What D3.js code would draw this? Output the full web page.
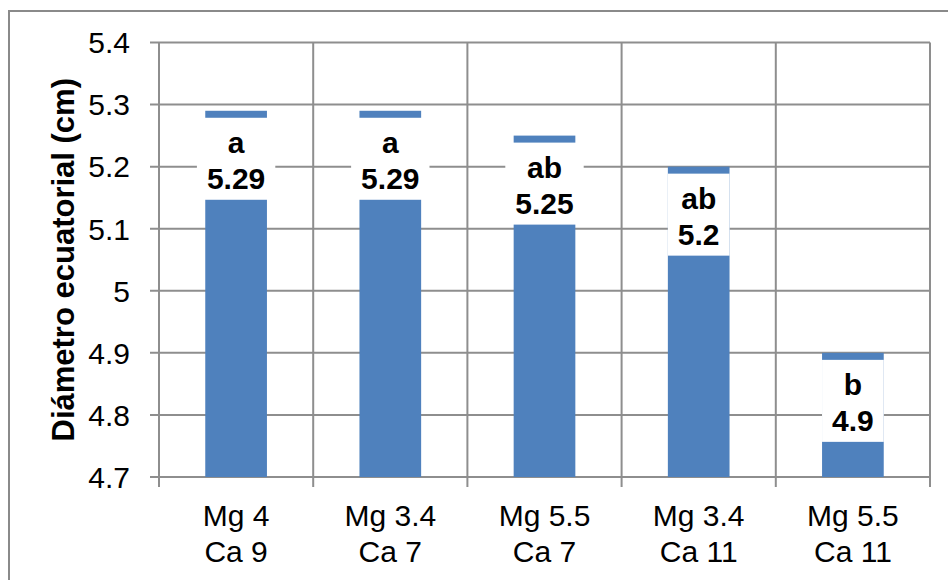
<!DOCTYPE html>
<html>
<head>
<meta charset="utf-8">
<script src="https://cdn.jsdelivr.net/npm/d3@7"></script>
<style>
    body { margin: 0; background: #fff; }
    svg { display: block; font-family: "Liberation Sans", Arial, sans-serif; }
</style>
</head>
<body>
<svg id="chart"></svg>
<script>
// Chart data
const categories = [["Mg 4", "Ca 9"], ["Mg 3.4", "Ca 7"], ["Mg 5.5", "Ca 7"], ["Mg 3.4", "Ca 11"], ["Mg 5.5", "Ca 11"]];
const diameters = [5.29, 5.29, 5.25, 5.2, 4.9];
const groupLetters = ["a", "a", "ab", "ab", "b"];
const yTicks = [4.7, 4.8, 4.9, 5, 5.1, 5.2, 5.3, 5.4];

class BarChart {
    constructor(config_) {
        this.config = config_;
        this.initVis();
    }

    initVis() {
        const vis = this;
        const c = vis.config;

        vis.svg = d3.select('#' + c.svgElementId)
            .attr('width', c.width)
            .attr('height', c.height);

        // outer frame (runs off the right and bottom edge like the source)
        vis.svg.append('rect')
            .attr('x', 9).attr('y', 11)
            .attr('width', c.width + 20).attr('height', c.height + 20)
            .attr('fill', 'none')
            .attr('stroke', '#8a8a8a')
            .attr('stroke-width', 2);

        vis.xScale = d3.scaleBand()
            .domain(d3.range(categories.length))
            .range([c.plot.left, c.plot.right])
            .padding(0);

        vis.yScale = d3.scaleLinear()
            .domain([4.7, 5.4])
            .range([c.plot.bottom, c.plot.top]);

        vis.chart = vis.svg.append('g');
        this.renderVis();
    }

    renderVis() {
        const vis = this;
        const c = vis.config;
        const grid = '#8e8e8e';

        // horizontal gridlines + tick marks
        vis.chart.selectAll('.hgrid')
            .data(yTicks)
            .join('line')
            .attr('class', 'hgrid')
            .attr('x1', c.plot.left - 9).attr('x2', c.plot.right)
            .attr('y1', d => vis.yScale(d)).attr('y2', d => vis.yScale(d))
            .attr('stroke', grid).attr('stroke-width', 2);

        // vertical category separators + tick marks
        const edges = d3.range(categories.length + 1).map(i =>
            i < categories.length ? vis.xScale(i) : c.plot.right);
        vis.chart.selectAll('.vgrid')
            .data(edges)
            .join('line')
            .attr('class', 'vgrid')
            .attr('x1', d => d).attr('x2', d => d)
            .attr('y1', c.plot.top).attr('y2', c.plot.bottom + 10)
            .attr('stroke', grid).attr('stroke-width', 2);

        // y tick labels
        vis.chart.selectAll('.ylab')
            .data(yTicks)
            .join('text')
            .attr('class', 'ylab')
            .attr('x', c.plot.left - 29)
            .attr('y', d => vis.yScale(d))
            .attr('dy', '0.36em')
            .attr('text-anchor', 'end')
            .attr('font-size', 30)
            .attr('fill', '#000')
            .text(d => d3.format('~g')(d));

        // y axis title
        vis.svg.append('text')
            .attr('transform', `translate(74, ${(c.plot.top + c.plot.bottom) / 2}) rotate(-90)`)
            .attr('text-anchor', 'middle')
            .attr('font-size', 31)
            .attr('font-weight', 'bold')
            .text('Diámetro ecuatorial (cm)');

        // x category labels (two lines)
        const xl = vis.chart.selectAll('.xlab')
            .data(categories)
            .join('text')
            .attr('class', 'xlab')
            .attr('text-anchor', 'middle')
            .attr('font-size', 30);
        xl.selectAll('tspan')
            .data((d, i) => d.map(t => ({ t, i })))
            .join('tspan')
            .attr('x', d => vis.xScale(d.i) + vis.xScale.bandwidth() / 2)
            .attr('y', (d, j) => 526 + j * 36)
            .text(d => d.t);

        // bars
        const barW = vis.xScale.bandwidth() * 0.4;
        const cx = i => vis.xScale(i) + vis.xScale.bandwidth() / 2;
        vis.chart.selectAll('.bar')
            .data(diameters)
            .join('rect')
            .attr('class', 'bar')
            .attr('x', (d, i) => cx(i) - barW / 2)
            .attr('width', barW)
            .attr('y', d => vis.yScale(d))
            .attr('height', d => c.plot.bottom - vis.yScale(d))
            .attr('fill', '#4f81bd');

        // data labels: white box with letter + value
        const labels = vis.chart.selectAll('.dlabel')
            .data(diameters)
            .join('g')
            .attr('class', 'dlabel')
            .attr('transform', (d, i) => `translate(${cx(i)}, ${vis.yScale(d)})`);

        const box = labels.append('rect')
            .attr('y', 7)
            .attr('height', 82)
            .attr('fill', '#fff');

        const txt = labels.append('text')
            .attr('text-anchor', 'middle')
            .attr('font-size', 30)
            .attr('font-weight', 'bold');
        txt.append('tspan').attr('x', 0).attr('y', 42).text((d, i) => groupLetters[i]);
        txt.append('tspan').attr('x', 0).attr('y', 78.5).text(d => d);

        txt.each(function(d, i) {
            const w = this.getBBox().width + 20;
            d3.select(box.nodes()[i]).attr('x', -w / 2).attr('width', w);
        });
    }
}

new BarChart({
    svgElementId: 'chart',
    width: 948,
    height: 580,
    plot: { left: 159, right: 930, top: 42.5, bottom: 477 }
});
</script>
</body>
</html>
